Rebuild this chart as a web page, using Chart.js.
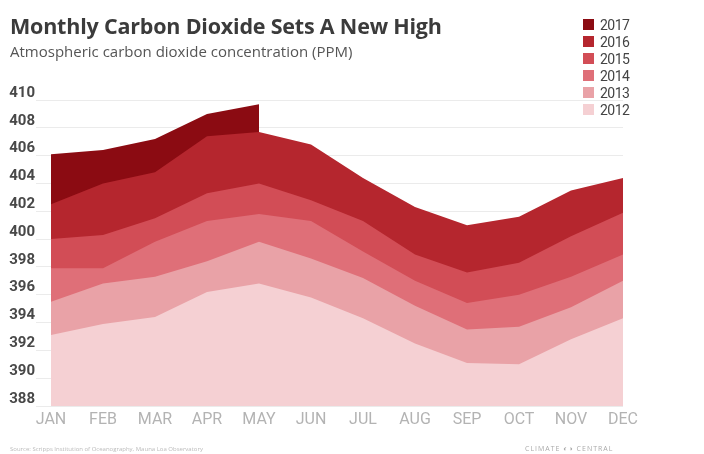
<!DOCTYPE html>
<html>
<head>
<meta charset="utf-8">
<script src="https://cdn.jsdelivr.net/npm/chart.js@4"></script>
<style>
  html, body { margin: 0; padding: 0; background: #fff; }
  #wrap { position: relative; width: 704px; height: 454px; overflow: hidden; font-family: "Open Sans", Lato, sans-serif; }
  #co2Chart { position: absolute; left: 0; top: 0; }
  .title { position: absolute; left: 10px; top: 11px; font-size: 21.5px; font-weight: 700; color: #3b3b3b; letter-spacing: -0.2px; }
  .subtitle { position: absolute; left: 10px; top: 41px; font-size: 15px; color: #555; }
  #legend { position: absolute; left: 583px; top: 16px; }
  .leg-row { display: flex; align-items: center; height: 17px; font-family: Roboto, sans-serif; font-size: 14px; color: #444; letter-spacing: -0.5px; }
  .leg-box { width: 11px; height: 11px; margin-right: 6px; }
  .source { position: absolute; left: 10px; top: 445px; font-size: 6px; color: #bbb; }
  .brand { position: absolute; left: 525px; top: 444px; font-size: 7px; color: #aaa; letter-spacing: 1px; }
</style>
</head>
<body>
<div id="wrap">
  <canvas id="co2Chart" width="704" height="454"></canvas>
  <div class="title">Monthly Carbon Dioxide Sets A New High</div>
  <div class="subtitle">Atmospheric carbon dioxide concentration (PPM)</div>
  <div id="legend"></div>
  <div class="source">Source: Scripps Institution of Oceanography, Mauna Loa Observatory</div>
  <div class="brand">CLIMATE ◐◑ CENTRAL</div>
</div>
<script>
'use strict';

// ---- data ----
const months = ['JAN', 'FEB', 'MAR', 'APR', 'MAY', 'JUN', 'JUL', 'AUG', 'SEP', 'OCT', 'NOV', 'DEC'];
const years  = ['2017', '2016', '2015', '2014', '2013', '2012'];

const co2_2017 = [406.1, 406.4, 407.2, 409.0, 409.7];
const co2_2016 = [402.5, 404.0, 404.8, 407.4, 407.7, 406.8, 404.4, 402.3, 401.0, 401.6, 403.5, 404.4];
const co2_2015 = [400.0, 400.3, 401.5, 403.3, 404.0, 402.8, 401.3, 398.9, 397.6, 398.3, 400.2, 401.9];
const co2_2014 = [397.9, 397.9, 399.8, 401.3, 401.8, 401.3, 399.1, 397.0, 395.4, 396.0, 397.3, 398.9];
const co2_2013 = [395.5, 396.8, 397.3, 398.4, 399.8, 398.6, 397.2, 395.2, 393.5, 393.7, 395.1, 397.0];
const co2_2012 = [393.1, 393.9, 394.4, 396.2, 396.8, 395.8, 394.3, 392.5, 391.1, 391.0, 392.8, 394.3];

const series = [co2_2017, co2_2016, co2_2015, co2_2014, co2_2013, co2_2012];
const yearColors = ['#8b0b12', '#b5262e', '#d24d56', '#df6f78', '#e9a2a7', '#f5d0d3'];

const yMin = 388, yMax = 410, yStep = 2;

// ---- legend (html) ----
(function buildLegend() {
  const box = document.getElementById('legend');
  years.forEach((y, i) => {
    const row = document.createElement('div');
    row.className = 'leg-row';
    row.innerHTML = `<span class="leg-box" style="background:${yearColors[i]}"></span>${y}`;
    box.appendChild(row);
  });
})();

// ---- chart ----
new Chart(document.getElementById('co2Chart'), {
  type: 'line',
  data: {
    labels: months,
    datasets: years.map((y, i) => ({
      label: y,
      data: series[i],
      backgroundColor: yearColors[i],
      borderColor: yearColors[i],
      borderWidth: 0,
      pointRadius: 0,
      fill: 'start',
      tension: 0,
      order: years.length - 1 - i,   // older (lower) years painted over newer ones
    }))
  },
  options: {
    responsive: false,
    animation: false,
    layout: { padding: { top: 100, right: 81, left: 0, bottom: 0 } },
    plugins: { legend: { display: false }, tooltip: { enabled: false } },
    scales: {
      x: {
        offset: false,
        border: { display: false },
        grid: { display: false, drawTicks: false },
        ticks: { color: '#b3b3b3', font: { family: 'Roboto', size: 16 }, padding: 4, maxRotation: 0 },
        afterFit: s => { s.height = 48; }
      },
      y: {
        min: yMin, max: yMax,
        border: { display: false },
        grid: { color: '#ebebeb', lineWidth: 1, drawTicks: true, tickLength: 15, tickColor: '#ebebeb' },
        ticks: { stepSize: yStep, color: '#484848', labelOffset: -7, padding: 1,
                 font: { family: 'Roboto', size: 15, weight: 'bold' } },
        afterFit: s => { s.width = 51; }
      }
    }
  }
});
</script>
</body>
</html>
